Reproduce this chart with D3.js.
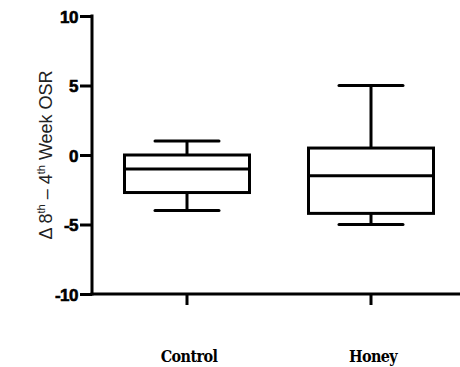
<!DOCTYPE html>
<html>
<head>
<meta charset="utf-8">
<script src="https://cdn.jsdelivr.net/npm/d3@7"></script>
<style>
  body { margin: 0; background: #fff; }
  svg { display: block; }
</style>
</head>
<body>
<div id="wrapper"></div>
<script>
// data
const groups = ['Control', 'Honey'];
const whiskerLow = [-4, -5];
const quartile1 = [-2.7, -4.2];
const medians = [-1, -1.5];
const quartile3 = [0, 0.5];
const whiskerHigh = [1, 5];
const yTicks = [-10, -5, 0, 5, 10];

const dimensions = {
  width: 460,
  height: 367,
  margin: { top: 16, right: 0, bottom: 73, left: 92 },
};
dimensions.boundedWidth = dimensions.width - dimensions.margin.left - dimensions.margin.right;
dimensions.boundedHeight = dimensions.height - dimensions.margin.top - dimensions.margin.bottom;

const svg = d3.select('#wrapper')
  .append('svg')
  .attr('width', dimensions.width)
  .attr('height', dimensions.height);

const bounds = svg.append('g')
  .attr('transform', `translate(${dimensions.margin.left}, ${dimensions.margin.top})`);

// scales
const yScale = d3.scaleLinear()
  .domain([-10, 10])
  .range([dimensions.boundedHeight, 0]);

const xScale = d3.scalePoint()
  .domain(groups)
  .range([0, dimensions.boundedWidth])
  .padding(0.5);

// the boxes sit a bit off from where a symmetric layout would put them
const xShift = -0.5 * (dimensions.boundedWidth - 187 * 2);
const cx = (d) => xScale(d.group) + xShift;

const boxWidth = 125;
const capWidth = 64;

const data = groups.map((g, i) => ({
  group: g,
  lo: whiskerLow[i], q1: quartile1[i], med: medians[i], q3: quartile3[i], hi: whiskerHigh[i],
}));

// boxes
const boxes = bounds.selectAll('g.box').data(data).join('g').attr('class', 'box')
  .attr('stroke', '#000').attr('stroke-width', 3).attr('fill', 'none');

boxes.append('line')
  .attr('x1', cx).attr('x2', cx)
  .attr('y1', (d) => yScale(d.hi)).attr('y2', (d) => yScale(d.q3));
boxes.append('line')
  .attr('x1', cx).attr('x2', cx)
  .attr('y1', (d) => yScale(d.q1)).attr('y2', (d) => yScale(d.lo));
boxes.append('line')
  .attr('x1', (d) => cx(d) - capWidth / 2).attr('x2', (d) => cx(d) + capWidth / 2)
  .attr('y1', (d) => yScale(d.hi)).attr('y2', (d) => yScale(d.hi))
  .attr('stroke-linecap', 'round');
boxes.append('line')
  .attr('x1', (d) => cx(d) - capWidth / 2).attr('x2', (d) => cx(d) + capWidth / 2)
  .attr('y1', (d) => yScale(d.lo)).attr('y2', (d) => yScale(d.lo))
  .attr('stroke-linecap', 'round');
boxes.append('rect')
  .attr('x', (d) => cx(d) - boxWidth / 2)
  .attr('width', boxWidth)
  .attr('y', (d) => yScale(d.q3))
  .attr('height', (d) => yScale(d.q1) - yScale(d.q3));
boxes.append('line')
  .attr('x1', (d) => cx(d) - boxWidth / 2).attr('x2', (d) => cx(d) + boxWidth / 2)
  .attr('y1', (d) => yScale(d.med)).attr('y2', (d) => yScale(d.med));

// y axis
const yAxis = bounds.append('g')
  .call(d3.axisLeft(yScale).tickValues(yTicks).tickSize(12).tickPadding(2).tickFormat((d) => String(d)));
yAxis.select('.domain').attr('stroke-width', 3).attr('d', `M0,-1.5V${dimensions.boundedHeight + 1.5}`);
yAxis.selectAll('.tick line').attr('stroke-width', 3);
yAxis.selectAll('.tick text')
  .attr('fill', '#000')
  .attr('stroke', '#000')
  .attr('stroke-width', 0.6)
  .style('font-family', "'Liberation Sans', Arial, sans-serif")
  .style('font-weight', 'bold')
  .style('font-size', '17px')
  .style('letter-spacing', '-0.5px')
  .attr('dy', '0.36em');

// x axis
const xAxis = bounds.append('g')
  .attr('transform', `translate(0, ${dimensions.boundedHeight})`);
xAxis.append('line')
  .attr('x1', -1.5).attr('x2', dimensions.boundedWidth)
  .attr('stroke', '#000').attr('stroke-width', 3);
xAxis.selectAll('line.tick').data(data).join('line')
  .attr('class', 'tick')
  .attr('x1', cx).attr('x2', cx)
  .attr('y1', 0).attr('y2', 11)
  .attr('stroke', '#000').attr('stroke-width', 3);
xAxis.selectAll('text.cat').data(data).join('text')
  .attr('class', 'cat')
  .attr('x', (d) => cx(d) + 2)
  .attr('y', 68)
  .attr('text-anchor', 'middle')
  .style('font-family', "'DejaVu Serif', serif")
  .style('font-size', '16px')
  .style('font-weight', 'bold')
  .style('font-stretch', 'condensed')
  .style('letter-spacing', '-0.6px')
  .text((d) => d.group);

// y axis title
bounds.append('text')
  .attr('transform', `translate(-40, ${yScale(0)}) rotate(-90)`)
  .attr('text-anchor', 'middle')
  .attr('fill', '#222')
  .style('font-family', "'Liberation Sans', Arial, sans-serif")
  .style('font-size', '18px')
  .html('Δ 8<tspan font-size="11" dy="-7">th</tspan><tspan dy="7"> – 4</tspan><tspan font-size="11" dy="-7">th</tspan><tspan dy="7"> Week OSR</tspan>');
</script>
</body>
</html>
